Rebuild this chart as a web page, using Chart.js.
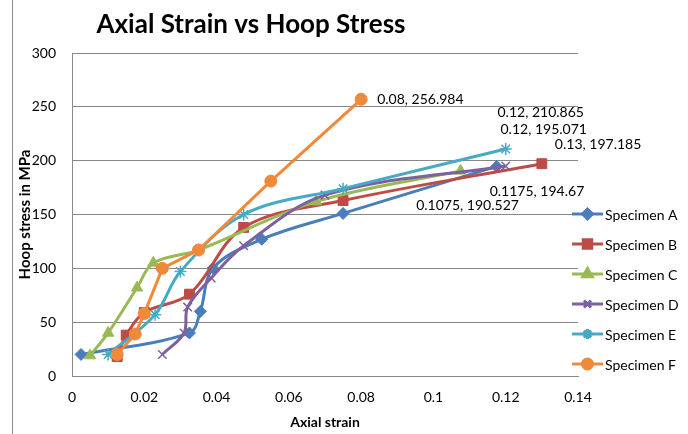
<!DOCTYPE html>
<html>
<head>
<meta charset="utf-8">
<script src="https://cdn.jsdelivr.net/npm/chart.js@4"></script>
<style>
  html, body { margin: 0; padding: 0; background: #fff; }
  #wrap { width: 688px; height: 434px; }
</style>
</head>
<body>
<div id="wrap"><canvas id="chart" width="688" height="434"></canvas></div>
<script>
// dados (deformação axial x tensão circunferencial)
const seriesNames = ['Specimen A', 'Specimen B', 'Specimen C', 'Specimen D', 'Specimen E', 'Specimen F'];

const strainA = [0.0025, 0.0325, 0.0355, 0.039, 0.0525, 0.075, 0.1175];
const stressA = [20, 40, 60, 100, 127, 151, 194.67];

const strainB = [0.0125, 0.015, 0.02, 0.0325, 0.0475, 0.075, 0.13];
const stressB = [18, 38, 59, 76, 138, 163, 197.185];

const strainC = [0.005, 0.01, 0.018, 0.0225, 0.035, 0.0675, 0.1075];
const stressC = [19, 40, 82, 105, 117, 162, 190.527];

const strainD = [0.025, 0.031, 0.032, 0.0385, 0.0475, 0.07, 0.12];
const stressD = [20, 40, 64, 91, 121, 168, 195.071];

const strainE = [0.01, 0.023, 0.03, 0.0475, 0.075, 0.12];
const stressE = [20, 57, 97, 150, 174, 210.865];

const strainF = [0.0125, 0.0175, 0.02, 0.025, 0.035, 0.055, 0.08];
const stressF = [20, 39, 58, 100, 117, 181, 256.984];

const xTicks = [0, 0.02, 0.04, 0.06, 0.08, 0.1, 0.12, 0.14];
const yTicks = [0, 50, 100, 150, 200, 250, 300];

const colors = ['#4A7EBB', '#BE4B48', '#98B954', '#7D60A0', '#46AAC5', '#F08A3A'];
const markers = ['rectRot', 'rect', 'triangle', 'crossRot', 'star', 'circle'];
const markerSize = [6, 7, 6.5, 6, 6, 6];

// posição dos rótulos do último ponto (deslocamento em px)
const labelOffsets = [
    { dx: -7, dy: 25, align: 'left' },
    { dx: 13, dy: -19, align: 'left' },
    { dx: 7, dy: 35, align: 'center' },
    { dx: 38, dy: -36, align: 'center' },
    { dx: 35, dy: -36, align: 'center' },
    { dx: 16, dy: 0, align: 'left' }
];

const FONT = "Lato, 'Open Sans', sans-serif";

const toPoints = (xs, ys) => xs.map((x, i) => ({ x: x, y: ys[i] }));
const allStrain = [strainA, strainB, strainC, strainD, strainE, strainF];
const allStress = [stressA, stressB, stressC, stressD, stressE, stressF];

const datasets = seriesNames.map((name, i) => ({
    label: name,
    data: toPoints(allStrain[i], allStress[i]),
    borderColor: colors[i],
    backgroundColor: colors[i],
    borderWidth: 3,
    pointStyle: markers[i],
    pointRadius: markerSize[i],
    pointBorderWidth: (markers[i] === 'crossRot' || markers[i] === 'star') ? 1.5 : 1,
    pointBorderColor: colors[i],
    pointBackgroundColor: colors[i],
    tension: i === 5 ? 0 : 0.35,
    order: 5 - i
}));

// título, rótulos, legenda e moldura desenhados à mão
const extras = {
    id: 'extras',
    beforeDraw(chart) {
        const ctx = chart.ctx;
        ctx.save();
        ctx.strokeStyle = '#8c8c8c';
        ctx.lineWidth = 1;
        ctx.beginPath();
        ctx.moveTo(12.5, 0);
        ctx.lineTo(12.5, 434);
        ctx.stroke();
        ctx.restore();
    },
    afterDatasetsDraw(chart) {
        const ctx = chart.ctx;
        ctx.save();

        // título
        ctx.fillStyle = '#000';
        ctx.font = 'bold 26px ' + FONT;
        ctx.textAlign = 'center';
        ctx.textBaseline = 'middle';
        ctx.fillText('Axial Strain vs Hoop Stress', 251, 25);

        // rótulos dos últimos pontos
        ctx.font = '14px ' + FONT;
        chart.data.datasets.forEach((ds, i) => {
            const meta = chart.getDatasetMeta(i);
            const last = meta.data[meta.data.length - 1];
            const p = ds.data[ds.data.length - 1];
            const off = labelOffsets[i];
            ctx.textAlign = off.align;
            ctx.fillText(p.x + ', ' + p.y, last.x + off.dx, last.y + off.dy);
        });

        // legenda
        ctx.textAlign = 'left';
        ctx.font = '14px ' + FONT;
        chart.data.datasets.forEach((ds, i) => {
            const y = 214 + i * 30;
            ctx.strokeStyle = ds.borderColor;
            ctx.lineWidth = 3;
            ctx.beginPath();
            ctx.moveTo(572, y);
            ctx.lineTo(603, y);
            ctx.stroke();
            ctx.fillStyle = ds.backgroundColor;
            Chart.helpers.drawPoint(ctx, {
                pointStyle: ds.pointStyle,
                radius: ds.pointRadius - 1,
                rotation: 0,
                borderWidth: ds.pointBorderWidth
            }, 587.5, y);
            ctx.fillStyle = '#000';
            ctx.fillText(ds.label, 605, y + 1);
        });

        ctx.restore();
    }
};

new Chart(document.getElementById('chart'), {
    type: 'line',
    data: { datasets: datasets },
    options: {
        responsive: false,
        animation: false,
        layout: { padding: { left: 14, right: 110, top: 53, bottom: 0 } },
        plugins: {
            legend: { display: false },
            tooltip: { enabled: false },
            title: { display: false }
        },
        scales: {
            x: {
                type: 'linear',
                min: 0,
                max: 0.14,
                afterFit: (scale) => { scale.height = 58; },
                afterBuildTicks: (scale) => { scale.ticks = xTicks.map(v => ({ value: v })); },
                ticks: {
                    color: '#000',
                    padding: 13,
                    font: { family: FONT, size: 14 },
                    callback: (v) => String(Number(v.toFixed(2)))
                },
                grid: { display: false, drawTicks: false },
                border: { display: true, color: '#888' },
                title: {
                    display: true,
                    text: 'Axial strain',
                    color: '#000',
                    font: { family: FONT, size: 14, weight: 'bold' },
                    padding: { top: 0, bottom: 3 }
                }
            },
            y: {
                min: 0,
                max: 300,
                afterFit: (scale) => { scale.width = 58; },
                afterBuildTicks: (scale) => { scale.ticks = yTicks.map(v => ({ value: v })); },
                ticks: {
                    color: '#000',
                    padding: 16,
                    font: { family: FONT, size: 14 }
                },
                grid: { color: '#888', lineWidth: 1, drawTicks: false },
                border: { display: true, color: '#888' },
                title: {
                    display: true,
                    text: 'Hoop stress in MPa',
                    color: '#000',
                    font: { family: FONT, size: 15, weight: 'bold' },
                    padding: { top: 2, bottom: 0 }
                }
            }
        }
    },
    plugins: [extras]
});
</script>
</body>
</html>
